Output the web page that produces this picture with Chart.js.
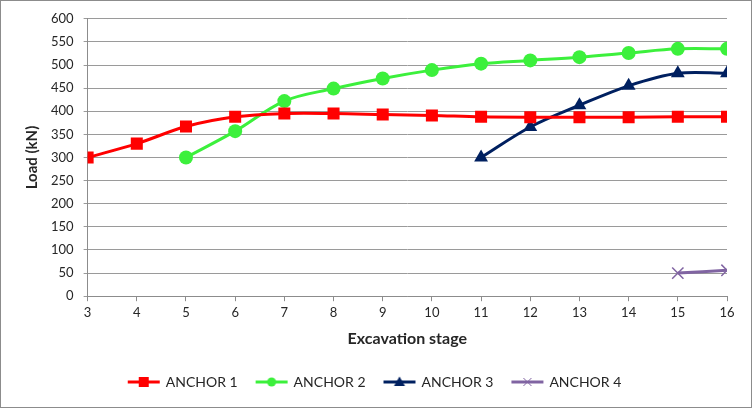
<!DOCTYPE html>
<html>
<head>
<meta charset="utf-8">
<script src="https://cdn.jsdelivr.net/npm/chart.js@4"></script>
<style>
  html, body { margin: 0; padding: 0; background: #fff; }
  #wrap { width: 752px; height: 408px; box-sizing: border-box; border: 1px solid #8c8c8c; }
  canvas { display: block; }
</style>
</head>
<body>
<div id="wrap"><canvas id="chart" width="750" height="406"></canvas></div>
<script>
// Excavation stage vs anchor load
const stages1 = [3, 4, 5, 6, 7, 8, 9, 10, 11, 12, 13, 14, 15, 16];
const anchor1 = [300, 330, 367, 388, 395, 395, 393, 391, 388, 387, 387, 387, 388, 388];
const stages2 = [5, 6, 7, 8, 9, 10, 11, 12, 13, 14, 15, 16];
const anchor2 = [300, 357, 422, 449, 471, 489, 503, 510, 517, 526, 535, 535];
const stages3 = [11, 12, 13, 14, 15, 16];
const anchor3 = [300, 366, 413, 455, 482, 482];
const stages4 = [15, 16];
const anchor4 = [50, 56];

const seriesNames = ['ANCHOR 1', 'ANCHOR 2', 'ANCHOR 3', 'ANCHOR 4'];
const colors = ['#ff0000', '#3cf03c', '#002060', '#8064a2'];
const markers = ['rect', 'circle', 'triangle', 'crossRot'];
const markerSize = [8.5, 7, 8, 8];

const FONT = 'Lato, "Open Sans", sans-serif';
const TEXT = '#262626';

function toPoints(xs, ys) {
    return xs.map((x, i) => ({ x: x, y: ys[i] }));
}

// small legend swatch: line with marker in the middle
function legendIcon(i) {
    const c = document.createElement('canvas');
    c.width = 34; c.height = 14;
    const g = c.getContext('2d');
    g.strokeStyle = colors[i];
    g.lineWidth = 3;
    g.beginPath(); g.moveTo(1, 7); g.lineTo(33, 7); g.stroke();
    g.fillStyle = colors[i];
    if (i === 0) g.fillRect(12, 2, 10, 10);
    else if (i === 1) { g.beginPath(); g.arc(17, 7, 4.5, 0, Math.PI * 2); g.fill(); }
    else if (i === 2) { g.beginPath(); g.moveTo(17, 1.5); g.lineTo(22.5, 11); g.lineTo(11.5, 11); g.closePath(); g.fill(); }
    else {
        g.lineWidth = 1; g.beginPath();
        g.moveTo(13, 3); g.lineTo(21, 11); g.moveTo(21, 3); g.lineTo(13, 11); g.stroke();
    }
    return c;
}

const allData = [toPoints(stages1, anchor1), toPoints(stages2, anchor2), toPoints(stages3, anchor3), toPoints(stages4, anchor4)];

const datasets = allData.map((d, i) => ({
    label: seriesNames[i],
    data: d,
    borderColor: colors[i],
    backgroundColor: colors[i],
    pointBackgroundColor: i === 3 ? 'rgba(0,0,0,0)' : colors[i],
    pointBorderColor: colors[i],
    pointBorderWidth: i === 3 ? 1.5 : 0,
    pointStyle: markers[i],
    pointRadius: markerSize[i],
    borderWidth: 3,
    tension: 0.35,
    fill: false
}));

new Chart(document.getElementById('chart'), {
    type: 'line',
    data: { datasets: datasets },
    options: {
        responsive: false,
        animation: false,
        layout: { padding: { left: 22, right: 24, top: 13, bottom: 8 } },
        plugins: {
            tooltip: { enabled: false },
            legend: {
                position: 'bottom',
                labels: {
                    usePointStyle: true,
                    pointStyleWidth: 30,
                    color: TEXT,
                    font: { family: FONT, size: 14 },
                    padding: 19,
                    generateLabels: function (chart) {
                        return seriesNames.map((n, i) => ({
                            text: n,
                            pointStyle: legendIcon(i),
                            fontColor: TEXT,
                            datasetIndex: i,
                            lineWidth: 0,
                            strokeStyle: 'rgba(0,0,0,0)',
                            fillStyle: 'rgba(0,0,0,0)'
                        }));
                    }
                }
            }
        },
        scales: {
            x: {
                type: 'linear',
                min: 3,
                max: 16,
                ticks: { stepSize: 1, color: TEXT, font: { family: FONT, size: 13 }, padding: 4 },
                grid: { drawOnChartArea: false, drawTicks: true, tickLength: 5, color: '#8c8c8c' },
                border: { color: '#8c8c8c' },
                title: { display: true, text: 'Excavation stage', color: TEXT, font: { family: FONT, size: 16, weight: 'bold' }, padding: { top: 4, bottom: 8 } }
            },
            y: {
                min: 0,
                max: 600,
                ticks: { stepSize: 50, color: TEXT, font: { family: FONT, size: 13 }, padding: 10 },
                grid: { color: '#9a9a9a', tickLength: 4 },
                border: { color: '#8c8c8c' },
                title: { display: true, text: 'Load (kN)', color: TEXT, font: { family: FONT, size: 15, weight: 'bold' }, padding: 0 }
            }
        }
    }
});
</script>
</body>
</html>
